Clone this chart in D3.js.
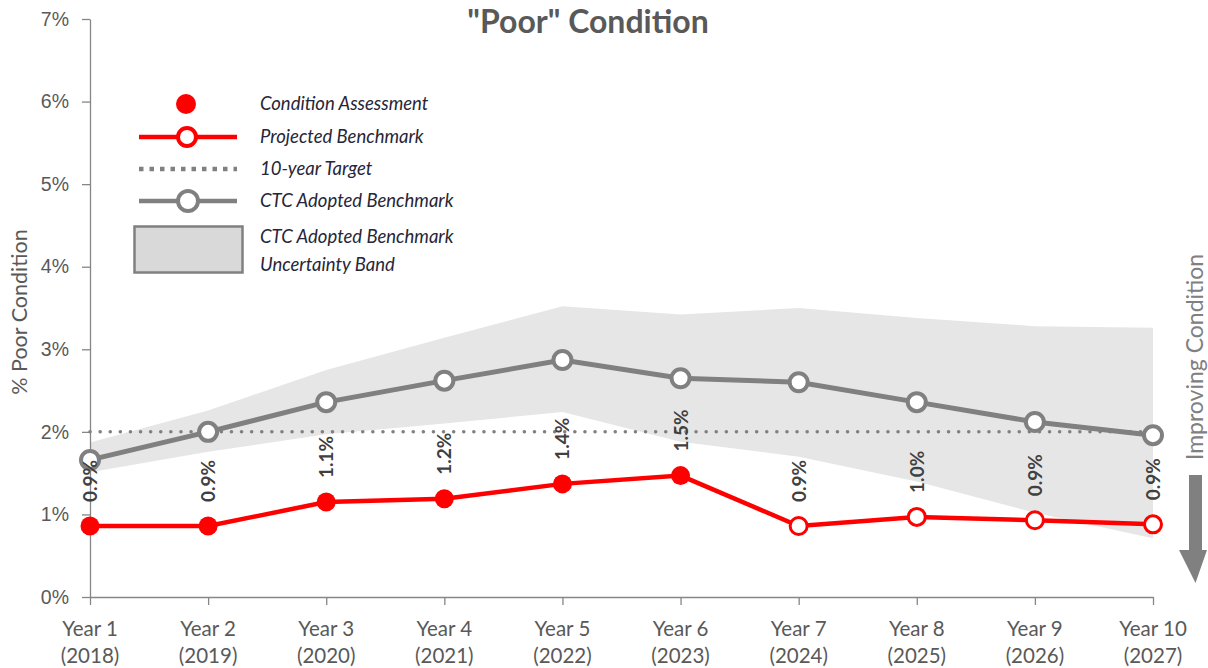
<!DOCTYPE html>
<html>
<head>
<meta charset="utf-8">
<script src="https://cdn.jsdelivr.net/npm/d3@7"></script>
<style>
  body { margin: 0; background: #fff; }
  svg { font-family: Lato, "Open Sans", sans-serif; }
</style>
</head>
<body>
<svg id="chart" width="1208" height="668"></svg>
<script>
// data
var categories = ['Year 1', 'Year 2', 'Year 3', 'Year 4', 'Year 5', 'Year 6', 'Year 7', 'Year 8', 'Year 9', 'Year 10'];
var yearLabels = ['(2018)', '(2019)', '(2020)', '(2021)', '(2022)', '(2023)', '(2024)', '(2025)', '(2026)', '(2027)'];
var poorPct = [0.86, 0.86, 1.15, 1.19, 1.37, 1.47, 0.86, 0.97, 0.93, 0.88];
var poorLabels = ['0.9%', '0.9%', '1.1%', '1.2%', '1.4%', '1.5%', '0.9%', '1.0%', '0.9%', '0.9%'];
var assessedCount = 6; // first 6 are condition assessments, rest projected
var ctcBenchmark = [1.66, 2.00, 2.36, 2.62, 2.87, 2.65, 2.60, 2.36, 2.12, 1.96];
var bandUpper = [1.87, 2.26, 2.75, 3.14, 3.52, 3.42, 3.50, 3.38, 3.28, 3.26];
var bandLower = [1.51, 1.76, 1.97, 2.10, 2.24, 1.88, 1.70, 1.40, 1.02, 0.71];
var target = 2.0;
var yTicks = [0, 1, 2, 3, 4, 5, 6, 7];

var svg = d3.select('#chart');

var x = d3.scalePoint().domain(categories).range([90, 1153]);
var y = d3.scaleLinear().domain([0, 7]).range([597, 19]);

var red = '#ff0000', grey = '#808080', txt = '#595959';

// uncertainty band
var band = categories.map(function (c, i) { return { c: c, hi: bandUpper[i], lo: bandLower[i] }; });
svg.append('path')
  .datum(band)
  .attr('fill', '#e6e6e6')
  .attr('d', d3.area()
    .x(function (d) { return x(d.c); })
    .y0(function (d) { return y(d.lo); })
    .y1(function (d) { return y(d.hi); }));

// axes
var yAxis = svg.append('g')
  .attr('transform', 'translate(90,0)')
  .call(d3.axisLeft(y).tickValues(yTicks).tickSize(8).tickSizeOuter(0).tickPadding(13)
    .tickFormat(function (d) { return d + '%'; }));
yAxis.selectAll('path, line').attr('stroke', '#868686').attr('stroke-width', 1.3);
yAxis.selectAll('text').attr('fill', txt).style('font-size', '19.5px');

var xAxis = svg.append('g')
  .attr('transform', 'translate(0,597)')
  .call(d3.axisBottom(x).tickSize(8).tickSizeOuter(0).tickFormat(''));
xAxis.selectAll('path, line').attr('stroke', '#868686').attr('stroke-width', 1.3);

var xl = svg.append('g').selectAll('text')
  .data(categories)
  .enter().append('text')
  .attr('text-anchor', 'middle')
  .attr('fill', txt)
  .style('font-size', '20.5px');
xl.append('tspan').attr('x', function (d) { return x(d); }).attr('y', 636).text(function (d) { return d; });
xl.append('tspan').attr('x', function (d) { return x(d); }).attr('y', 663).text(function (d, i) { return yearLabels[i]; });

// target line
svg.append('line')
  .attr('x1', x(categories[0])).attr('x2', x(categories[categories.length - 1]))
  .attr('y1', y(target)).attr('y2', y(target))
  .attr('stroke', grey).attr('stroke-width', 3.5)
  .attr('stroke-linecap', 'round')
  .attr('stroke-dasharray', '0.1,10');

var line = d3.line()
  .x(function (d) { return x(d.c); })
  .y(function (d) { return y(d.v); });

// CTC benchmark
var ctc = categories.map(function (c, i) { return { c: c, v: ctcBenchmark[i] }; });
svg.append('path').datum(ctc)
  .attr('fill', 'none').attr('stroke', grey).attr('stroke-width', 5)
  .attr('d', line);
svg.append('g').selectAll('circle')
  .data(ctc).enter().append('circle')
  .attr('cx', function (d) { return x(d.c); })
  .attr('cy', function (d) { return y(d.v); })
  .attr('r', 9)
  .attr('fill', '#fff').attr('stroke', grey).attr('stroke-width', 4);

// poor condition
var poor = categories.map(function (c, i) { return { c: c, v: poorPct[i], i: i }; });
svg.append('path').datum(poor)
  .attr('fill', 'none').attr('stroke', red).attr('stroke-width', 4.5)
  .attr('d', line);
svg.append('g').selectAll('circle')
  .data(poor).enter().append('circle')
  .attr('cx', function (d) { return x(d.c); })
  .attr('cy', function (d) { return y(d.v); })
  .attr('r', function (d) { return d.i < assessedCount ? 9.5 : 8.5; })
  .attr('fill', function (d) { return d.i < assessedCount ? red : '#fff'; })
  .attr('stroke', red).attr('stroke-width', function (d) { return d.i < assessedCount ? 0 : 3; });

// data labels
svg.append('g').selectAll('text')
  .data(poor).enter().append('text')
  .attr('transform', function (d) { return 'translate(' + (x(d.c) + 7) + ',' + (y(d.v) - 24) + ') rotate(-90)'; })
  .attr('fill', '#404040')
  .style('font-size', '19px').style('font-weight', 'bold')
  .text(function (d) { return poorLabels[d.i]; });

// title
svg.append('text')
  .attr('x', 588).attr('y', 33)
  .attr('text-anchor', 'middle')
  .attr('fill', txt)
  .style('font-size', '32px').style('font-weight', 'bold')
  .text('"Poor" Condition');

// y axis title
svg.append('text')
  .attr('transform', 'translate(27,312) rotate(-90)')
  .attr('text-anchor', 'middle')
  .attr('fill', txt)
  .style('font-size', '21.5px')
  .text('% Poor Condition');

// improving condition arrow
svg.append('text')
  .attr('transform', 'translate(1203,357) rotate(-90)')
  .attr('text-anchor', 'middle')
  .attr('fill', grey)
  .style('font-size', '23px')
  .text('Improving Condition');
svg.append('path')
  .attr('fill', grey)
  .attr('d', 'M1189,475 L1202,475 L1202,550 L1207,550 L1195.5,583 L1179,550 L1189,550 Z');

// legend
var lg = svg.append('g');
var legendText = '#262638';
function legendLabel(yy, t) {
  lg.append('text').attr('x', 260).attr('y', yy + 6)
    .attr('fill', legendText)
    .style('font-size', '18.5px').style('font-style', 'italic')
    .text(t);
}
lg.append('circle').attr('cx', 186).attr('cy', 104).attr('r', 10).attr('fill', red);
legendLabel(104, 'Condition  Assessment');

lg.append('line').attr('x1', 139).attr('x2', 237).attr('y1', 137).attr('y2', 137)
  .attr('stroke', red).attr('stroke-width', 4.5);
lg.append('circle').attr('cx', 187).attr('cy', 137).attr('r', 9)
  .attr('fill', '#fff').attr('stroke', red).attr('stroke-width', 4);
legendLabel(137, 'Projected Benchmark');

lg.append('line').attr('x1', 139).attr('x2', 237).attr('y1', 169).attr('y2', 169)
  .attr('stroke', grey).attr('stroke-width', 4.5)
  .attr('stroke-dasharray', '4.5,6');
legendLabel(169, '10-year  Target');

lg.append('line').attr('x1', 139).attr('x2', 237).attr('y1', 201).attr('y2', 201)
  .attr('stroke', grey).attr('stroke-width', 4.5);
lg.append('circle').attr('cx', 188).attr('cy', 201).attr('r', 10)
  .attr('fill', '#fff').attr('stroke', grey).attr('stroke-width', 4);
legendLabel(201, 'CTC Adopted Benchmark');

lg.append('rect').attr('x', 134.5).attr('y', 226.5).attr('width', 108).attr('height', 46)
  .attr('fill', '#d9d9d9').attr('stroke', grey).attr('stroke-width', 2.5);
legendLabel(237, 'CTC Adopted Benchmark');
legendLabel(265, 'Uncertainty Band');
</script>
</body>
</html>
